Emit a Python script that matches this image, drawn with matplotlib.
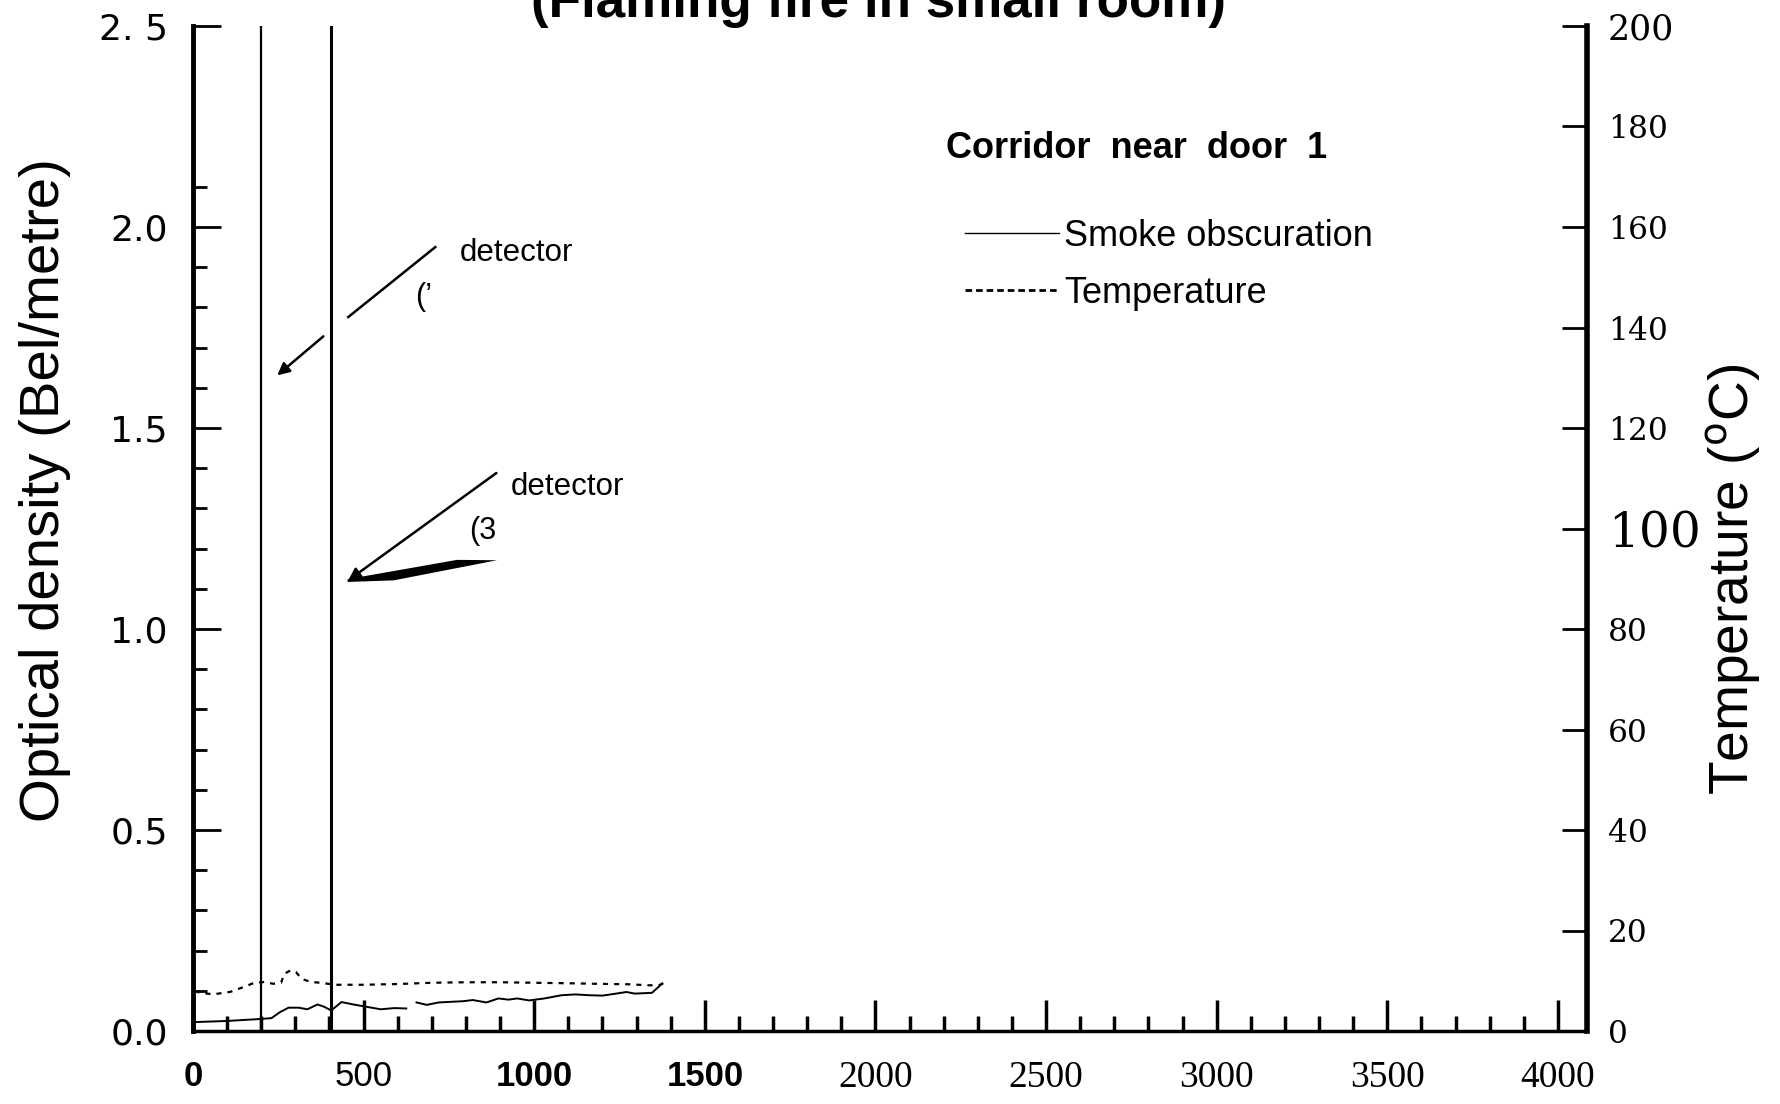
import numpy as np
from matplotlib import pyplot as plt
from matplotlib import font_manager as fm
from matplotlib.lines import Line2D

# detector activation times (s)
detector_times = [200, 405]

# smoke obscuration, corridor near door 1 (Bel/metre)
smoke_t = [0, 100, 200, 230, 255, 280, 310, 335, 365, 385, 405, 435, 470, 510,
           550, 590, 625, 640, 655, 685, 720, 765, 790, 820, 860, 895, 925, 950,
           985, 1030, 1080, 1120, 1160, 1200, 1240, 1270, 1295, 1345, 1375]
smoke_od = [0.022, 0.025, 0.030, 0.032, 0.047, 0.058, 0.058, 0.054, 0.066, 0.060,
            0.051, 0.072, 0.066, 0.060, 0.054, 0.057, 0.056, np.nan, 0.071, 0.065,
            0.071, 0.073, 0.074, 0.077, 0.071, 0.081, 0.078, 0.081, 0.076, 0.081,
            0.089, 0.091, 0.089, 0.088, 0.093, 0.097, 0.093, 0.095, 0.118]

# temperature, corridor near door 1 (deg C)
temp_t = [5, 20, 60, 110, 150, 180, 210, 235, 258, 268, 287, 302, 318, 345, 375,
          415, 500, 600, 700, 800, 900, 1000, 1100, 1180, 1275, 1335, 1365, 1380]
temp_c = [8.0, 7.6, 7.3, 7.8, 8.8, 9.6, 9.75, 9.4, 9.6, 11.4, 12.1, 11.7, 10.4,
          9.75, 9.6, 9.2, 9.2, 9.35, 9.6, 9.7, 9.7, 9.6, 9.5, 9.4, 9.3, 9.1, 9.1, 9.55]

x_ticks = [0, 500, 1000, 1500, 2000, 2500, 3000, 3500, 4000]
x_labels = ["0", "500", "1000", "1500", "2000", "2500", "3000", "3500", "4000"]
od_ticks = [0.0, 0.5, 1.0, 1.5, 2.0, 2.5]
od_labels = ["0.0", "0.5", "1.0", "1.5", "2.0", "2. 5"]
temp_ticks = [0, 20, 40, 60, 80, 100, 120, 140, 160, 180, 200]

# detector annotations (data coords)
note1_line_t = [455, 710]
note1_line_od = [1.776, 1.950]
note1_arrow = [(382, 1.728), (247, 1.631)]
note2_arrow = [(889, 1.388), (455, 1.121)]
wedge_t = [453, 588, 891, 774, 453]
wedge_od = [1.117, 1.121, 1.171, 1.172, 1.124]

names = {f.name for f in fm.fontManager.ttflist}


def pick(*cands):
    for c in cands:
        if c in names:
            return c
    return "DejaVu Sans"


narrow = pick("Liberation Sans Narrow", "DejaVu Sans Condensed", "Liberation Sans")
sans = pick("Liberation Sans", "DejaVu Sans")
serif = pick("DejaVu Serif", "Liberation Serif")
times = pick("Liberation Serif", "DejaVu Serif")

fig = plt.figure(figsize=(17.81, 11.04), dpi=100)
ax = fig.add_axes([193 / 1781, 73 / 1104, 1394 / 1781, 1005 / 1104])
ax2 = ax.twinx()

ax.set_xlim(0, 4085)
ax.set_ylim(0, 2.5)
ax2.set_ylim(0, 200)

# curves
ax.plot(smoke_t, smoke_od, color="k", lw=1.4)
ax2.plot(temp_t, temp_c, color="k", lw=1.6, ls=(0, (2.3, 2.7)))
for t, w in zip(detector_times, [1.6, 2.2]):
    ax.axvline(t, color="k", lw=w)

# annotations
ax.plot(note1_line_t, note1_line_od, color="k", lw=1.8)
ax.annotate("", xy=note1_arrow[1], xytext=note1_arrow[0],
            arrowprops=dict(arrowstyle="-|>", color="k", lw=1.8, mutation_scale=18,
                            shrinkA=0, shrinkB=0))
ax.annotate("", xy=note2_arrow[1], xytext=note2_arrow[0],
            arrowprops=dict(arrowstyle="-|>", color="k", lw=1.8, mutation_scale=18,
                            shrinkA=0, shrinkB=0))
ax.fill(wedge_t, wedge_od, color="k", lw=0)
ax.text(783, 1.935, "detector", family=sans, fontsize=22.5, va="center")
ax.text(652, 1.825, "(\u2019", family=sans, fontsize=22, va="center")
ax.text(930, 1.352, "detector", family=sans, fontsize=22.5, va="center")
ax.text(808, 1.245, "(3", family=sans, fontsize=22, va="center")

# x axis
ax.set_xticks(x_ticks, labels=x_labels)
ax.set_xticks(np.arange(100, 4001, 100), minor=True)
ax.tick_params(axis="x", which="major", direction="in", length=22, width=2.5, pad=21)
ax.tick_params(axis="x", which="minor", direction="in", length=11, width=2.5)
for lbl, txt in zip(ax.get_xticklabels(), x_labels):
    if txt in ("0", "500", "1000", "1500"):
        lbl.set_family(narrow)
        lbl.set_fontsize(25)
        lbl.set_fontweight("bold" if txt != "500" else "normal")
    else:
        lbl.set_family(times)
        lbl.set_fontsize(27)

# left axis
ax.set_yticks(od_ticks, labels=od_labels)
ax.set_yticks(np.round(np.arange(1, 22) * 0.1, 1), minor=True)
ax.tick_params(axis="y", which="major", direction="in", length=20, width=2, pad=18,
               labelsize=26)
ax.tick_params(axis="y", which="minor", direction="in", length=10, width=2)
for lbl in ax.get_yticklabels():
    lbl.set_family("DejaVu Sans")

# right axis
ax2.set_yticks(temp_ticks)
ax2.tick_params(axis="y", direction="in", length=18, width=2, pad=15)
for lbl, v in zip(ax2.get_yticklabels(), temp_ticks):
    lbl.set_family(serif)
    lbl.set_fontsize(35 if v == 100 else 25 if v == 200 else 22.5)

for a in (ax, ax2):
    a.spines["top"].set_visible(False)
ax.spines["left"].set_linewidth(3.5)
ax.spines["bottom"].set_linewidth(2.5)
ax2.spines["right"].set_linewidth(4)
ax2.spines["left"].set_visible(False)
ax2.spines["bottom"].set_visible(False)

# axis labels
ax.set_ylabel("Optical density (Bel/metre)", family=narrow, fontsize=40)
ax.yaxis.set_label_coords(-0.106, 0.538)
ax.yaxis.label.set_va("center")
ax2.set_ylabel("Temperature ($^{\\mathrm{o}}$C)", family=narrow, fontsize=34,
               rotation=90)
ax2.yaxis.set_label_coords(1.1055, 0.45)
ax2.yaxis.label.set_va("center")

title = fig.text(879 / 1781, 1 - 17 / 1104, "(Flaming fire in small room)",
                 family=narrow, fontsize=40, fontweight="bold", ha="center",
                 va="baseline")
fig.text(946 / 1781, 1 - 149 / 1104, "Corridor  near  door  1", family=sans,
         fontsize=26, fontweight="bold", va="center")

handles = [Line2D([], [], color="k", lw=1.0),
           Line2D([], [], color="k", lw=2.0, ls=(0, (2.4, 1.4)))]
fig.legend(handles, ["Smoke obscuration", "Temperature"], loc="upper left",
           bbox_to_anchor=(965 / 1781, 1 - 219 / 1104), frameon=False, borderpad=0,
           borderaxespad=0, handlelength=2.6, handletextpad=0.15, labelspacing=0.6,
           prop={"family": sans, "size": 26})


def fit(t, target, vertical=False):
    r = fig.canvas.get_renderer()
    bb = t.get_window_extent(r)
    size = bb.height if vertical else bb.width
    t.set_fontsize(t.get_fontsize() * target / size)


fig.canvas.draw()
fit(title, 695)
fit(ax.yaxis.label, 664, vertical=True)
fit(ax2.yaxis.label, 432, vertical=True)

fig.savefig("out.png", dpi=100, facecolor="white")
